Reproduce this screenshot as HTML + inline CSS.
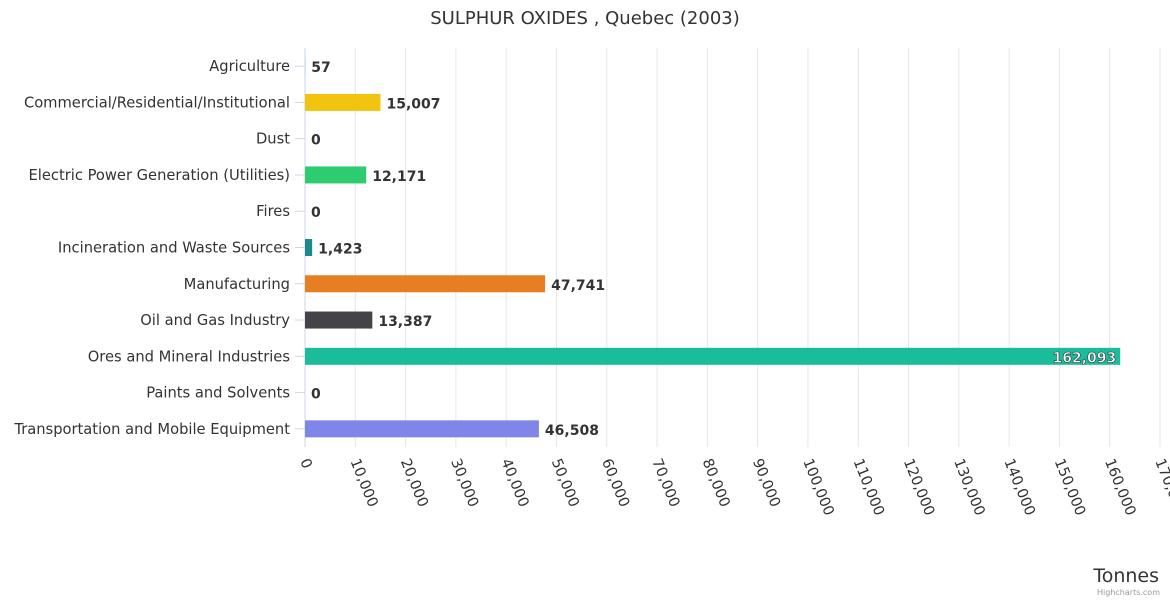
<!DOCTYPE html>
<html><head><meta charset="utf-8"><style>
body{margin:0;background:#fff;}
svg{display:block;font-family:"DejaVu Sans",sans-serif;}
</style></head><body>
<svg id="chart" width="1170" height="600">
<text x="585" y="24" text-anchor="middle" font-size="18" fill="#333">SULPHUR OXIDES , Quebec (2003)</text>
<g id="grid"></g><g id="bars"></g><g id="xlabels"></g><g id="ylabels"></g>
<text x="1159" y="582" text-anchor="end" font-size="19" fill="#333">Tonnes</text>
<text x="1160" y="595" text-anchor="end" font-size="8" fill="#999">Highcharts.com</text>
</svg>
<script>
const categories=["Agriculture","Commercial/Residential/Institutional","Dust","Electric Power Generation (Utilities)","Fires","Incineration and Waste Sources","Manufacturing","Oil and Gas Industry","Ores and Mineral Industries","Paints and Solvents","Transportation and Mobile Equipment"];
const values=[57,15007,0,12171,0,1423,47741,13387,162093,0,46508];
const colors=["#7cb5ec","#f1c40f","#2c3e50","#2ecc71","#e74c3c","#1a8a8a","#e67e22","#434348","#1abc9c","#9b59b6","#8085e9"];
const ticks=[0,10000,20000,30000,40000,50000,60000,70000,80000,90000,100000,110000,120000,130000,140000,150000,160000,170000];
const X0=305,X1=1160,T=48,B=447,MAX=170000;
const x=v=>X0+(v/MAX)*(X1-X0);
const band=(B-T)/categories.length;
const y=i=>T+band*(i+0.5);
const NS="http://www.w3.org/2000/svg";
function mk(tag,attrs,parent){const e=document.createElementNS(NS,tag);for(const k in attrs)e.setAttribute(k,attrs[k]);parent.appendChild(e);return e;}
const grid=document.getElementById('grid'),bars=document.getElementById('bars'),xl=document.getElementById('xlabels'),yl=document.getElementById('ylabels');
const fmt=v=>v.toLocaleString('en-US');
ticks.forEach(t=>{
 const l=mk('line',{x1:x(t),x2:x(t),y1:T,y2:B,stroke:t===0?'#ccd6eb':'#e6e6e6','stroke-width':1},grid);
 
 
 const tx=mk('text',{transform:`translate(${x(t)-5},461) rotate(68)`,'font-size':14.5,fill:'#333'},xl);
 tx.textContent=fmt(t);
 
 
});
categories.forEach((c,i)=>{
 const tk=mk('line',{x1:295,x2:305,y1:y(i),y2:y(i),stroke:'#ccd6eb'},grid);
 
 
 const lt=mk('text',{x:290,y:y(i)+5,'text-anchor':'end','font-size':14.7,fill:'#333'},yl);
 lt.textContent=c;
 
 
 const w=x(values[i])-X0;
 const r=mk('rect',{x:X0,y:y(i)-8.5,width:Math.max(w,0),height:17,fill:colors[i]},bars);
 
 
 const inside=w>700;
 const vt=mk('text',{x:inside?X0+w-4:X0+w+6,y:y(i)+6,'text-anchor':inside?'end':'start','font-size':14,'font-weight':'bold',fill:inside?'#fff':'#333',stroke:inside?'#333':'none','stroke-width':inside?0.6:0},bars);
 vt.textContent=fmt(values[i]);
 
 
});
</script>
</body></html>
